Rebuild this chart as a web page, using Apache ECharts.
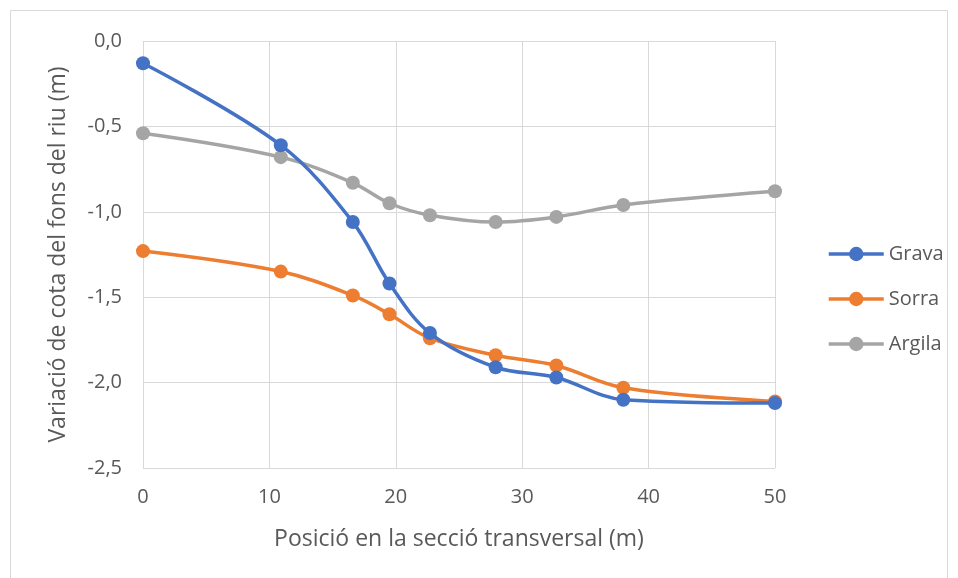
<!DOCTYPE html>
<html>
<head>
<meta charset="utf-8">
<style>
  html, body { margin: 0; padding: 0; background: #ffffff; }
  #chart { width: 958px; height: 578px; }
</style>
<script src="https://cdn.jsdelivr.net/npm/echarts@6/dist/echarts.min.js"></script>
</head>
<body>
<div id="chart"></div>
<script>
// Cross-section positions (m)
const positions = [0, 10.9, 16.6, 19.5, 22.7, 27.9, 32.7, 38.0, 50];

// Bed level change per material (m)
const grava  = [-0.13, -0.61, -1.06, -1.42, -1.71, -1.91, -1.97, -2.10, -2.12];
const sorra  = [-1.23, -1.35, -1.49, -1.60, -1.74, -1.84, -1.90, -2.03, -2.11];
const argila = [-0.54, -0.68, -0.83, -0.95, -1.02, -1.06, -1.03, -0.96, -0.88];

const seriesNames = ['Grava', 'Sorra', 'Argila'];
const seriesColors = ['#4472C4', '#ED7D31', '#A5A5A5'];

const xTicks = { min: 0, max: 50, interval: 10 };
const yTicks = { min: -2.5, max: 0, interval: 0.5 };

const pairs = (vals) => positions.map((x, i) => [x, vals[i]]);

const fontFamily = 'Open Sans, Noto Sans, sans-serif';
const textColor = '#595959';

const chart = echarts.init(document.getElementById('chart'), null, { renderer: 'canvas' });

chart.setOption({
  animation: false,
  backgroundColor: '#ffffff',
  textStyle: { fontFamily: fontFamily },
  graphic: [{
    type: 'rect',
    shape: { x: 10.5, y: 10.5, width: 937, height: 570 },
    style: { fill: 'none', stroke: '#d9d9d9', lineWidth: 1 },
    silent: true
  }],
  grid: { left: 143, right: 183, top: 41, bottom: 110 },
  legend: {
    orient: 'vertical',
    left: 827,
    top: 244,
    padding: 0,
    itemWidth: 55,
    itemHeight: 18,
    itemGap: 25,
    lineStyle: { width: 3.5 },
    textStyle: { color: textColor, fontSize: 20, fontFamily: fontFamily },
    data: seriesNames
  },
  xAxis: {
    type: 'value',
    min: xTicks.min,
    max: xTicks.max,
    interval: xTicks.interval,
    name: 'Posició en la secció transversal (m)',
    nameLocation: 'middle',
    nameGap: 60,
    nameTextStyle: { color: textColor, fontSize: 23, fontFamily: fontFamily },
    axisLine: { show: true, lineStyle: { color: '#d9d9d9', width: 1 } },
    axisTick: { show: false },
    axisLabel: { color: textColor, fontSize: 20, margin: 19, fontFamily: fontFamily },
    splitLine: { show: true, lineStyle: { color: '#d9d9d9', width: 1 } }
  },
  yAxis: {
    type: 'value',
    min: yTicks.min,
    max: yTicks.max,
    interval: yTicks.interval,
    name: 'Variació de cota del fons del riu (m)',
    nameLocation: 'middle',
    nameGap: 73,
    nameTextStyle: { color: textColor, fontSize: 23, fontFamily: fontFamily },
    axisLine: { show: false },
    axisTick: { show: false },
    axisLabel: {
      color: textColor,
      fontSize: 20,
      margin: 21,
      fontFamily: fontFamily,
      formatter: (v) => v.toFixed(1).replace('.', ',')
    },
    splitLine: { show: true, lineStyle: { color: '#d9d9d9', width: 1 } }
  },
  series: [grava, sorra, argila].map((vals, i) => ({
    name: seriesNames[i],
    type: 'line',
    data: pairs(vals),
    smooth: 0.35,
    symbol: 'circle',
    symbolSize: 14,
    lineStyle: { color: seriesColors[i], width: 3.5 },
    itemStyle: { color: seriesColors[i] },
    z: 3 - i
  }))
});
</script>
</body>
</html>
